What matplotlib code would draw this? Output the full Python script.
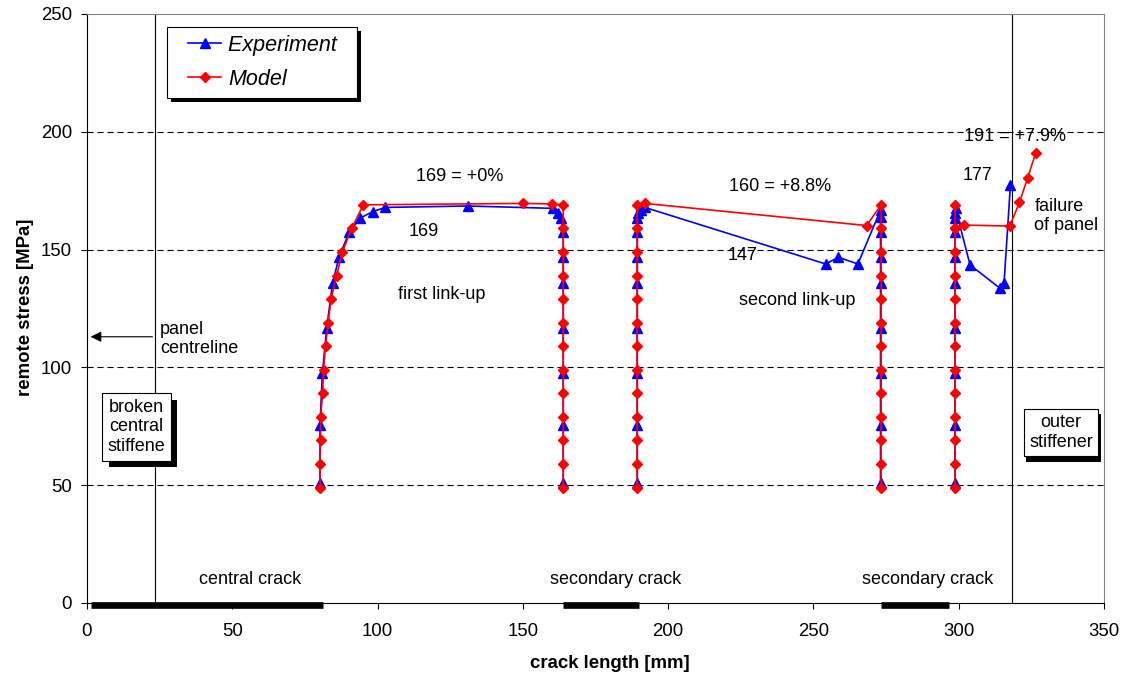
import numpy as np
import matplotlib
matplotlib.use('Agg')
import matplotlib.pyplot as plt
import matplotlib.patheffects as pe
from matplotlib.legend_handler import HandlerLine2D

plt.rcParams['font.family'] = ['Liberation Sans', 'DejaVu Sans']

# model: central crack tip -> first link-up -> left tip of secondary crack 1
model_a1 = [80.2, 80.2, 80.4, 80.4, 81.1, 81.4, 82.1, 83.0, 84.0, 85.9, 87.9, 91.1, 95.1,
            149.9, 159.9,
            163.9, 163.9, 163.9, 163.9, 163.9, 163.9, 163.9, 163.9, 163.9, 163.9, 163.9, 163.9, 163.9]
model_s1 = [49, 59, 69, 79, 89, 99, 109, 119, 129, 139, 149, 159, 169,
            169.6, 169.4,
            169, 159, 149, 139, 129, 119, 109, 99, 89, 79, 69, 59, 49]
# model: right tip of secondary crack 1 -> second link-up -> secondary crack 2
model_a2 = [189.3, 189.3, 189.3, 189.3, 189.3, 189.3, 189.3, 189.3, 189.3, 189.3, 189.3, 189.3, 189.3,
            192.0, 268.3,
            273.3, 273.3, 273.3, 273.3, 273.3, 273.3, 273.3, 273.3, 273.3, 273.3, 273.3, 273.3, 273.3]
model_s2 = [49, 59, 69, 79, 89, 99, 109, 119, 129, 139, 149, 159, 169,
            169.6, 160.2,
            169, 159, 149, 139, 129, 119, 109, 99, 89, 79, 69, 59, 49]
# model: right tip of secondary crack 2 and failure
model_a3 = [298.7, 298.7, 298.7, 298.7, 298.7, 298.7, 298.7, 298.7, 298.7, 298.7, 298.7, 298.7, 298.7]
model_s3 = [49, 59, 69, 79, 89, 99, 109, 119, 129, 139, 149, 159, 169]
model_a4 = [298.7, 301.8, 317.6, 320.9, 323.7, 326.5]
model_s4 = [159, 160.4, 160.0, 170.0, 180.3, 191.0]

# experiment
exp_a1 = [80.2, 80.2, 81.0, 82.5, 84.5, 86.8, 90.2, 93.9, 98.3, 102.7, 131.2,
          160.5, 162.2, 163.0, 163.9, 163.9, 163.9, 163.9, 163.9, 163.9, 163.9]
exp_s1 = [50.8, 75.5, 97.5, 116.6, 135.7, 147.0, 157.3, 163.3, 166.1, 167.9, 168.5,
          167.5, 165.4, 163.3, 157.3, 147.0, 135.7, 116.6, 97.5, 75.5, 50.8]
exp_a2 = [189.4, 189.4, 189.4, 189.4, 189.4, 189.4, 189.4, 189.4, 189.6, 190.8, 192.0,
          254.2, 258.6, 265.3,
          273.1, 273.1, 273.1, 273.1, 273.1, 273.1, 273.1, 273.1, 273.1]
exp_s2 = [50.8, 75.5, 97.5, 116.6, 135.7, 147.0, 157.3, 163.3, 165.4, 166.8, 167.9,
          143.9, 146.7, 143.9,
          166.8, 163.7, 157.3, 147.0, 135.7, 116.6, 97.5, 75.5, 50.8]
exp_a3 = [298.7, 298.7, 298.7, 298.7, 298.7, 298.7, 298.7, 298.7, 298.8, 298.9,
          303.9, 314.2, 315.6, 317.8]
exp_s3 = [50.8, 75.5, 97.5, 116.6, 135.7, 147.0, 157.3, 163.3, 165.4, 167.5,
          143.5, 133.6, 135.7, 177.4]

# initial cracks (drawn on the x axis) and stiffener positions
crack_start = [1.3, 163.8, 273.2]
crack_end = [81.2, 190.0, 296.6]
crack_names = ['central crack', 'secondary crack', 'secondary crack']
crack_label_x = [56, 182, 289.4]
stiffener_x = [23.5, 318.5]

fig = plt.figure(figsize=(11.24, 6.76), dpi=100)
ax = fig.add_axes([0.0774, 0.108, 0.9048, 0.8713])
ax.set_xlim(0, 350)
ax.set_ylim(0, 250)

for yg in [50, 100, 150, 200]:
    ax.axhline(yg, color='black', lw=0.8, ls=(0, (5.5, 3.5)), zorder=1)
for xs in stiffener_x:
    ax.axvline(xs, color='black', lw=0.8, zorder=1)

blue = dict(color='#0000FF', marker='^', ms=7, lw=1.2, zorder=3)
red = dict(color='#FF0000', marker='D', ms=5.2, lw=1.2, zorder=4)
l1, = ax.plot(exp_a1, exp_s1, **blue)
ax.plot(exp_a2, exp_s2, **blue)
ax.plot(exp_a3, exp_s3, **blue)
l2, = ax.plot(model_a1, model_s1, **red)
ax.plot(model_a2, model_s2, **red)
ax.plot(model_a3, model_s3, **red)
ax.plot(model_a4, model_s4, **red)

for x0, x1 in zip(crack_start, crack_end):
    ax.plot([x0, x1], [-0.85, -0.85], color='black', lw=4.8, solid_capstyle='butt',
            clip_on=False, zorder=5)
for name, xc in zip(crack_names, crack_label_x):
    ax.text(xc, 9.8, name, ha='center', va='center', fontsize=13)

fs = 13
ax.text(128.4, 181.2, '169 = +0%', ha='center', va='center', fontsize=fs)
ax.text(115.9, 157.5, '169', ha='center', va='center', fontsize=fs)
ax.text(121.9, 131.1, 'first link-up', ha='center', va='center', fontsize=fs)
ax.text(238.6, 176.7, '160 = +8.8%', ha='center', va='center', fontsize=fs)
ax.text(225.5, 147.7, '147', ha='center', va='center', fontsize=fs)
ax.text(244.3, 128.6, 'second link-up', ha='center', va='center', fontsize=fs)
ax.text(319.5, 197.9, '191 = +7.9%', ha='center', va='center', fontsize=fs, zorder=6)
ax.text(306.6, 181.5, '177', ha='center', va='center', fontsize=fs)
ax.text(326.0, 164.3, 'failure\nof panel', ha='left', va='center', fontsize=fs)
ax.text(25.1, 112.0, 'panel\ncentreline', ha='left', va='center', fontsize=fs)
ax.annotate('', xy=(0.3, 113), xytext=(23.5, 113),
            arrowprops=dict(arrowstyle='-|>', color='black', lw=0.8, mutation_scale=16))

shadow = [pe.withSimplePatchShadow(offset=(4.5, -4.5), shadow_rgbFace='black', alpha=1)]
t1 = ax.text(17.1, 74.7, 'broken\ncentral\nstiffene', ha='center', va='center', fontsize=fs,
             bbox=dict(boxstyle='square,pad=0.3', fc='white', ec='black', lw=0.8), zorder=6)
t1.get_bbox_patch().set_path_effects(shadow)
t2 = ax.text(335.2, 72.3, 'outer\nstiffener', ha='center', va='center', fontsize=fs,
             bbox=dict(boxstyle='square,pad=0.3', fc='white', ec='black', lw=0.8), zorder=6)
t2.get_bbox_patch().set_path_effects(
    [pe.withSimplePatchShadow(offset=(2, -4), shadow_rgbFace='black', alpha=1)])

leg = ax.legend([l1, l2], ['Experiment  ', 'Model'], loc='upper left',
                bbox_to_anchor=(0.0784, 0.9785), borderaxespad=0, fancybox=False,
                edgecolor='black', framealpha=1, borderpad=0.38, labelspacing=0.6,
                handlelength=2.16, handletextpad=0.31,
                handler_map={l1: HandlerLine2D(xpad=0.63), l2: HandlerLine2D(xpad=0.63)},
                prop={'style': 'italic', 'size': 15.5})
leg.get_frame().set_linewidth(0.8)
leg.get_frame().set_path_effects(
    [pe.withSimplePatchShadow(offset=(3, -3), shadow_rgbFace='black', alpha=1)])
leg.set_zorder(7)

ax.set_xticks(np.arange(0, 351, 50))
ax.set_yticks(np.arange(0, 251, 50))
ax.tick_params(direction='out', length=4.2, width=0.8, labelsize=13.4)
ax.tick_params(axis='x', pad=10)
ax.tick_params(axis='y', pad=6.5)
for side in ['top', 'right']:
    ax.spines[side].set_color('#808080')
    ax.spines[side].set_linewidth(0.8)
for side in ['left', 'bottom']:
    ax.spines[side].set_linewidth(0.8)

ax.set_xlabel('crack length [mm]', fontsize=13.4, fontweight='bold')
ax.set_ylabel('remote stress [MPa]', fontsize=13.4, fontweight='bold')
ax.xaxis.set_label_coords(0.514, -0.089)
ax.yaxis.set_label_coords(-0.052, 0.5025)

fig.savefig('out.png', dpi=100)
